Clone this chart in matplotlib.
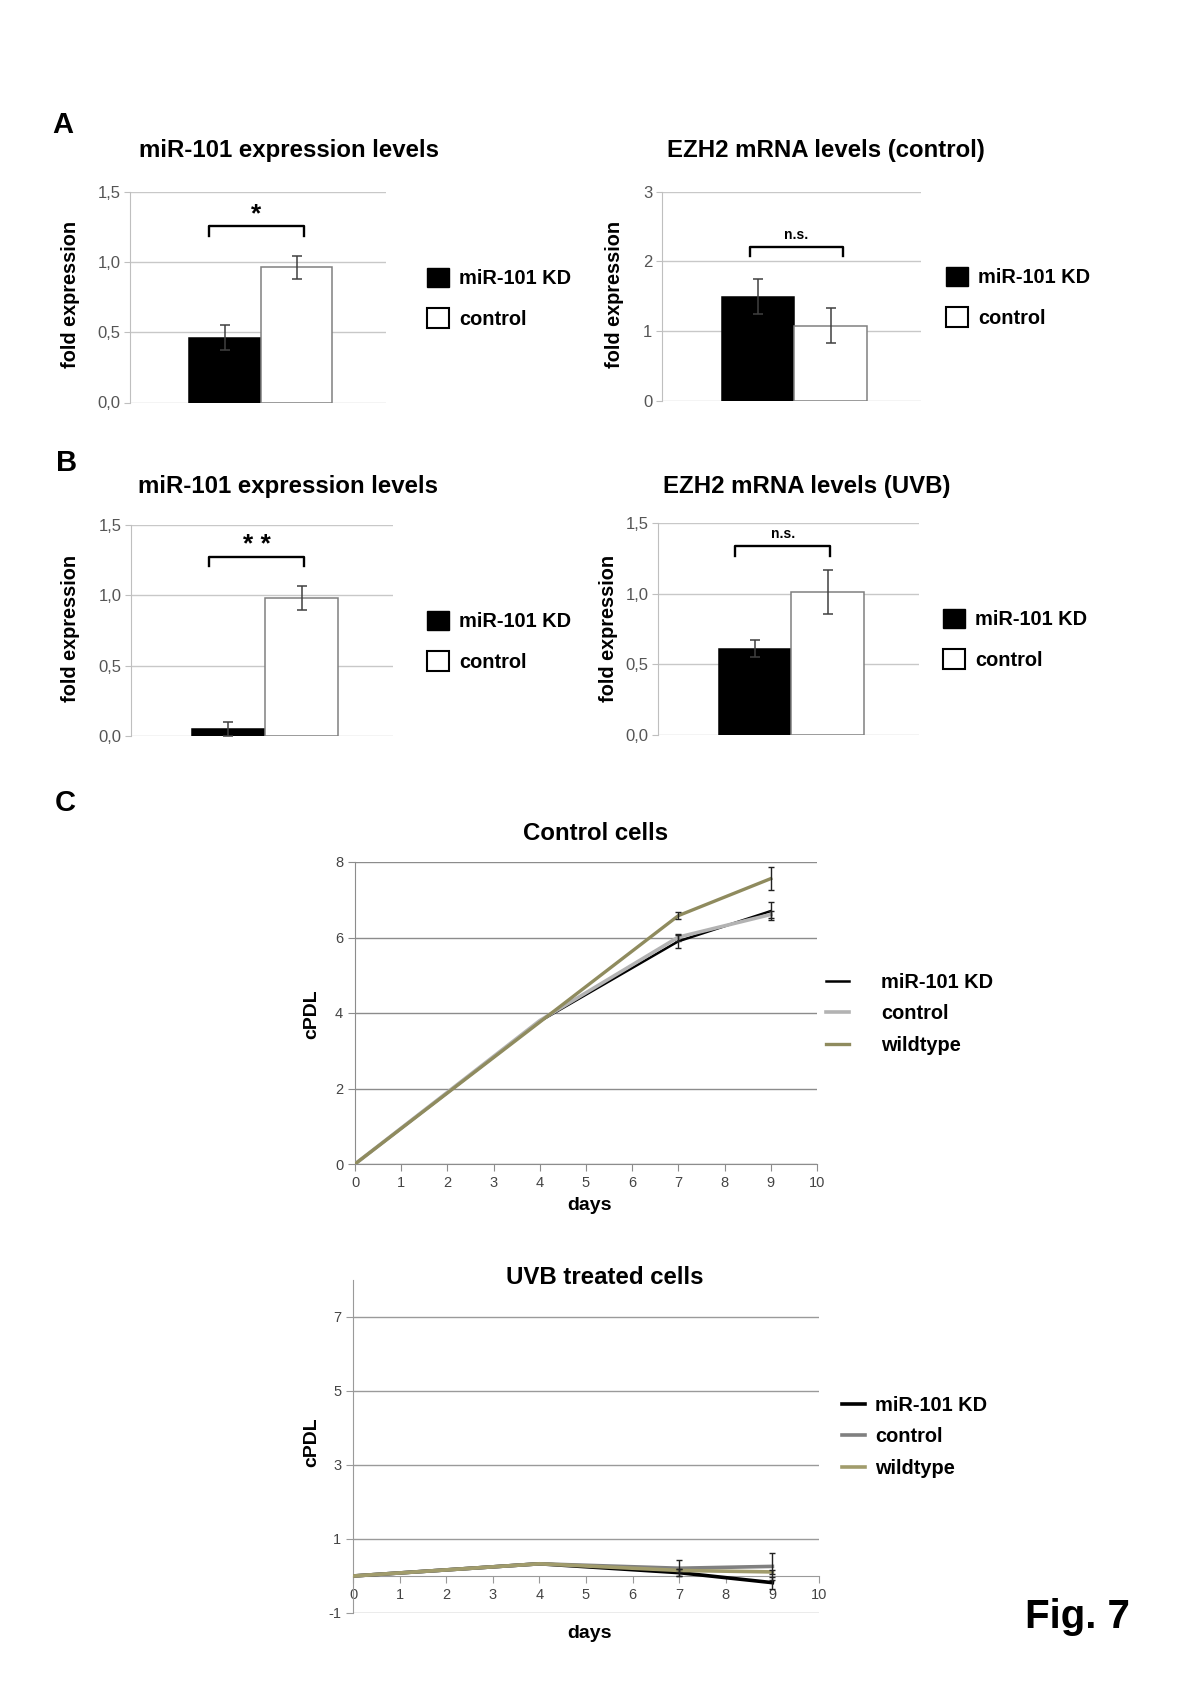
import matplotlib
matplotlib.use('Agg')
import matplotlib.pyplot as plt
from matplotlib.patches import Patch

plt.rcParams['font.family'] = ['Liberation Sans', 'DejaVu Sans']
plt.rcParams['axes.unicode_minus'] = False

W, H = 1200, 1697

# %% data
groups = ['miR-101 KD', 'control']

a1_vals = [0.46, 0.96]
a1_err = [0.09, 0.08]
a2_vals = [1.49, 1.08]
a2_err = [0.25, 0.25]
b1_vals = [0.05, 0.98]
b1_err = [0.05, 0.085]
b2_vals = [0.61, 1.01]
b2_err = [0.06, 0.155]

ticks_15 = [0, 0.5, 1.0, 1.5]
labels_15 = ['0,0', '0,5', '1,0', '1,5']
ticks_3 = [0, 1, 2, 3]
labels_3 = ['0', '1', '2', '3']

days = [0, 4, 7, 9]
series = ['miR-101 KD', 'control', 'wildtype']

c1_kd = [0, 3.78, 5.90, 6.70]
c1_ctrl = [0, 3.80, 6.01, 6.61]
c1_wt = [0, 3.76, 6.58, 7.56]
c1_kd_err = [0, 0, 0.17, 0.23]
c1_ctrl_err = [0, 0, 0.09, 0.10]
c1_wt_err = [0, 0, 0.10, 0.31]

c2_kd = [0, 0.33, 0.09, -0.18]
c2_ctrl = [0, 0.33, 0.21, 0.26]
c2_wt = [0, 0.33, 0.15, 0.11]
c2_kd_err = [0, 0, 0.10, 0.16]
c2_ctrl_err = [0, 0, 0.21, 0.36]
c2_wt_err = [0, 0, 0.05, 0.05]


def rect(l, t, r, b):
    return [l / W, 1 - b / H, (r - l) / W, (b - t) / H]


def ftext(x, y, s, **kw):
    fig.text(x / W, 1 - y / H, s, **kw)


fig = plt.figure(figsize=(12, 16.97), dpi=100)


# %% bar panels
def bar_panel(box, vals, errs, yt, ylab, br_x, br_y, br_leg, sig, sig_y, sig_size, leg_xy):
    ax = fig.add_axes(rect(*box))
    pos = [0, 1]
    ax.set_axisbelow(True)
    ax.bar(pos, vals, width=1, color=['black', 'white'],
           edgecolor=['black', '#808080'], linewidth=1.1, zorder=3)
    ax.errorbar(pos, vals, yerr=errs, fmt='none', ecolor='#404040',
                elinewidth=1.1, capsize=3.5, capthick=1.1, zorder=4)
    ax.plot([br_x[0], br_x[0], br_x[1], br_x[1]],
            [br_y - br_leg, br_y, br_y, br_y - br_leg], color='black', lw=1.7)
    ax.text(sum(br_x) / 2, sig_y, sig, ha='center', va='center',
            fontsize=sig_size, fontweight='bold')
    ax.set_xlim(-1.33, 2.25)
    ax.set_ylim(yt[0], yt[-1])
    ax.set_yticks(yt)
    ax.set_yticklabels(ylab)
    ax.set_xticks([])
    ax.grid(axis='y', color='#c8c8c8', lw=1)
    for s in ['top', 'right', 'bottom']:
        ax.spines[s].set_visible(False)
    ax.spines['left'].set_color('#bfbfbf')
    ax.tick_params(axis='y', length=4, color='#bfbfbf', labelsize=12,
                   labelcolor='#555555', pad=3)
    handles = [Patch(facecolor='black', edgecolor='black'),
               Patch(facecolor='white', edgecolor='black', linewidth=1.5)]
    ax.legend(handles, groups, loc='upper left',
              bbox_to_anchor=(leg_xy[0] / W, 1 - leg_xy[1] / H),
              bbox_transform=fig.transFigure, frameon=False,
              prop={'size': 14.4, 'weight': 'bold'}, handlelength=1.1,
              handleheight=1.1, handletextpad=0.5, labelspacing=1.0,
              borderpad=0, borderaxespad=0)
    return ax


bar_panel((130, 191.5, 386, 402.5), a1_vals, a1_err, ticks_15, labels_15,
          (-0.22, 1.1), 1.257, 0.07, '*', 1.34, 19, (427, 268))
bar_panel((662, 191.5, 921, 401), a2_vals, a2_err, ticks_3, labels_3,
          (-0.12, 1.17), 2.20, 0.13, 'n.s.', 2.38, 10, (946, 267))
bar_panel((131, 525, 393, 736), b1_vals, b1_err, ticks_15, labels_15,
          (-0.26, 1.04), 1.274, 0.067, '* *', 1.36, 19, (427, 611))
bar_panel((658, 523, 919, 735), b2_vals, b2_err, ticks_15, labels_15,
          (-0.27, 1.03), 1.335, 0.065, 'n.s.', 1.42, 10, (943, 609))

for x, y, s in [(289, 150, 'miR-101 expression levels'),
                (826, 150, 'EZH2 mRNA levels (control)'),
                (288, 487, 'miR-101 expression levels'),
                (807, 486, 'EZH2 mRNA levels (UVB)'),
                (596, 834, 'Control cells'),
                (605, 1277, 'UVB treated cells')]:
    ftext(x, y, s, ha='center', va='center', fontsize=17.3, fontweight='bold')

for x, y, s in [(63, 125, 'A'), (67, 463, 'B'), (65, 803, 'C')]:
    ftext(x, y, s, ha='center', va='center', fontsize=21, fontweight='bold')

for x, y in [(71, 294), (615, 294), (71, 628), (608, 628)]:
    ftext(x, y, 'fold expression', ha='center', va='center', rotation=90,
          fontsize=14.3, fontweight='bold')


# %% line panels
def line_panel(box, ylim, yt, data, errs, colors, widths, grid_c, leg_xy, pad):
    ax = fig.add_axes(rect(*box))
    for y, e, c, w, lab in zip(data, errs, colors, widths, series):
        ax.plot(days, y, color=c, lw=w, label=lab, zorder=3)
        ax.errorbar(days[2:], y[2:], yerr=e[2:], fmt='none', ecolor='#222222',
                    elinewidth=1, capsize=2.5, capthick=1, zorder=4)
    ax.set_xlim(0, 10)
    ax.set_ylim(*ylim)
    ax.set_xticks(range(11))
    ax.set_yticks(yt)
    ax.grid(axis='y', color=grid_c, lw=1)
    ax.set_axisbelow(True)
    for s in ['top', 'right']:
        ax.spines[s].set_visible(False)
    ax.spines['left'].set_color(grid_c)
    ax.spines['bottom'].set_color(grid_c)
    ax.tick_params(length=5, color=grid_c, labelsize=10.5, labelcolor='#444444')
    ax.legend(loc='upper left', bbox_to_anchor=(leg_xy[0] / W, 1 - leg_xy[1] / H),
              bbox_transform=fig.transFigure, frameon=False,
              prop={'size': 14.4, 'weight': 'bold'}, handlelength=1.15,
              handletextpad=pad, labelspacing=0.62, borderpad=0, borderaxespad=0)
    return ax


line_panel((355, 862, 817, 1164), (0, 8), [0, 2, 4, 6, 8],
           [c1_kd, c1_ctrl, c1_wt], [c1_kd_err, c1_ctrl_err, c1_wt_err],
           ['black', '#b3b3b3', '#8f8b5e'], [1.8, 2.6, 2.4], '#8c8c8c',
           (826, 973), 1.6)

ax = line_panel((353, 1280, 819, 1613), (-1, 8), [-1, 1, 3, 5, 7],
                [c2_kd, c2_ctrl, c2_wt], [c2_kd_err, c2_ctrl_err, c2_wt_err],
                ['black', '#808080', '#a19c6c'], [2.6, 2.6, 2.6], '#9a9a9a',
                (842, 1396), 0.5)
ax.spines['bottom'].set_position(('data', 0))

for y in [1205, 1633]:
    ftext(590, y, 'days', ha='center', va='center', fontsize=14, fontweight='bold')
for y in [1014, 1442]:
    ftext(312, y, 'cPDL', ha='center', va='center', rotation=90,
          fontsize=14, fontweight='bold')

ftext(1077, 1617, 'Fig. 7', ha='center', va='center', fontsize=29, fontweight='bold')

fig.savefig('out.png', dpi=100, facecolor='white')
